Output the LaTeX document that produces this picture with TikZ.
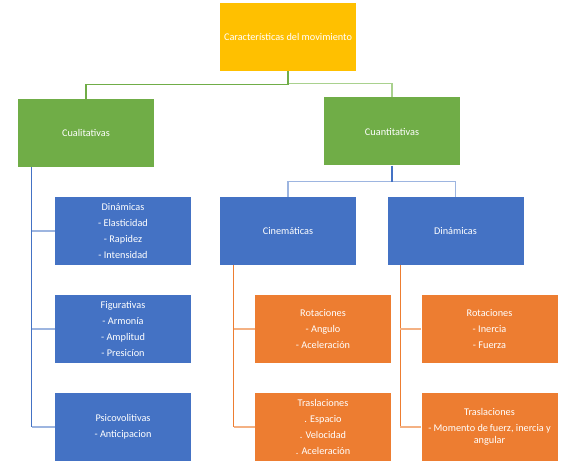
\documentclass[tikz,border=0pt]{standalone}
\usepackage{fontspec}
\setmainfont{Carlito}
\usetikzlibrary{calc}
\definecolor{cyel}{HTML}{FFC000}
\definecolor{cgrn}{HTML}{70AD47}
\definecolor{cgrnl}{HTML}{A9D18E}
\definecolor{cblu}{HTML}{4472C4}
\definecolor{cblul}{HTML}{9DB5E0}
\definecolor{corg}{HTML}{ED7D31}
\definecolor{corgl}{HTML}{F4B183}
\tikzset{
  box/.style={rectangle, inner sep=0pt, minimum width=136bp, minimum height=68bp,
    text=white, align=center, font=\fontsize{10.3}{12.3}\selectfont},
  ybox/.style={box, fill=cyel},
  gbox/.style={box, fill=cgrn},
  bbox/.style={box, fill=cblu},
  obox/.style={box, fill=corg},
  ln/.style={line width=1.3bp}
}
\newcommand{\pp}{\\[4bp]}
\begin{document}
\begin{tikzpicture}[x=1bp,y=-1bp]
\useasboundingbox (0,0) rectangle (577,464);
\node[ybox] (top) at (288,37) {Características del movimiento};
\node[gbox] (cual) at (86,133) {Cualitativas};
\node[gbox] (cuan) at (392,131.5) {Cuantitativas};
\node[bbox] (din) at (123,231) {Dinámicas\pp - Elasticidad\pp - Rapidez\pp - Intensidad};
\node[bbox] (fig) at (123,329) {Figurativas\pp - Armonía\pp - Amplitud\pp - Presicíon};
\node[bbox] (psi) at (123,427) {Psicovolitivas\pp - Anticipacion};
\node[bbox] (cin) at (288,231) {Cinemáticas};
\node[bbox] (din2) at (455.5,231) {Dinámicas};
\node[obox] (rot1) at (323,329) {Rotaciones\pp - Angulo\pp - Aceleración};
\node[obox] (tra1) at (323,427) {Traslaciones\pp . Espacio\pp . Velocidad\pp . Aceleración};
\node[obox] (rot2) at (489.5,329) {Rotaciones\pp - Inercia\pp - Fuerza};
\node[obox] (tra2) at (489.5,427) {Traslaciones\pp - Momento de\,fuerz, inercia y\\ angular};
% junction coordinates
\coordinate (gj) at ($(top.south)+(0,13)$);
\coordinate (gjr) at ($(top.south)+(0,12)$);
\coordinate (bj) at ($(cuan.south)+(0,16)$);
\coordinate (lt) at ($(cual.south west)+(14,0)$);
\coordinate (ct) at ($(cin.south west)+(14,0)$);
\coordinate (dt) at ($(din2.south west)+(13,0)$);
% green connectors
\draw[ln, cgrnl] (gjr) -| (cuan.north);
\draw[ln, cgrn] (top.south) -- (gj) -| (cual.north);
% blue connectors
\draw[ln, cblul] (cin.north) |- (bj) -| (din2.north);
\draw[ln, cblu] (cuan.south) -- (bj);
\draw[ln, cblu] (lt) -- (lt |- psi.west);
\foreach \b in {din, fig, psi}
  \draw[ln, cblul] (lt |- \b.west) -- (\b.west);
% orange connectors
\draw[ln, corg] (ct) -- (ct |- tra1.west);
\draw[ln, corg] (dt) -- (dt |- tra2.west);
\foreach \b in {rot1, tra1}
  \draw[ln, corgl] (ct |- \b.west) -- (\b.west);
\foreach \b in {rot2, tra2}
  \draw[ln, corgl] (dt |- \b.west) -- (\b.west);
\end{tikzpicture}
\end{document}
